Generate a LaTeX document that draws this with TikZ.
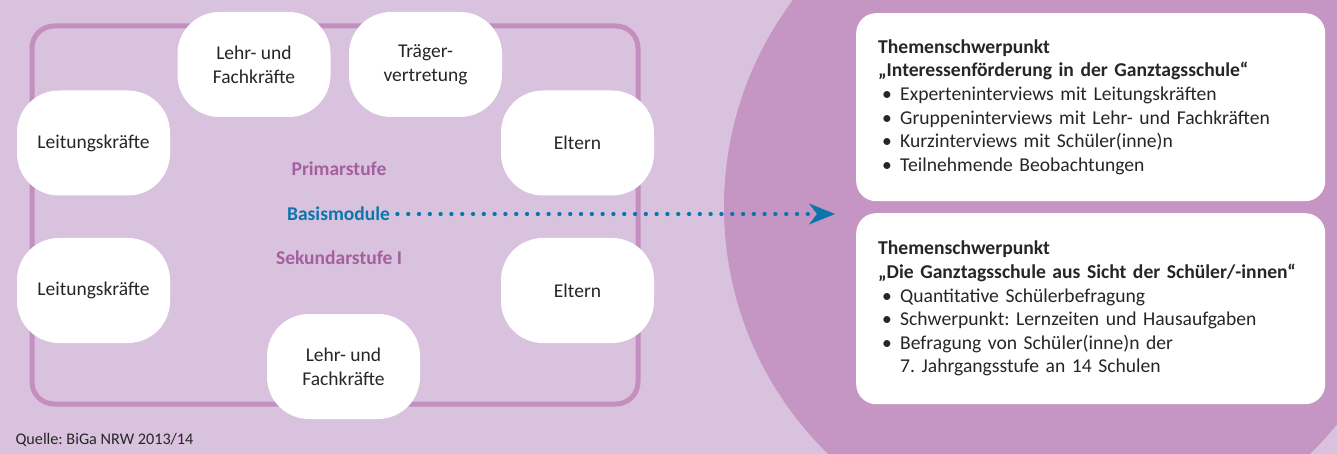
\documentclass[tikz,border=0pt]{standalone}
\usepackage{fontspec}
\setmainfont{Carlito}
\usetikzlibrary{arrows.meta}
\definecolor{bglight}{HTML}{D9C2DE}
\definecolor{bgdark}{HTML}{C595C3}
\definecolor{framecol}{HTML}{C48FBF}
\definecolor{stufecol}{HTML}{A4609E}
\definecolor{basiscol}{HTML}{0B76AC}
\definecolor{textcol}{HTML}{262626}
\frenchspacing

\begin{document}
\begin{tikzpicture}[x=1pt,y=-1pt,
    group/.style={fill=white,rounded corners=42pt,minimum width=153pt,minimum height=105pt,
        align=center,text=textcol,font=\fontsize{19.5}{24}\selectfont,inner sep=0pt},
    stufe/.style={text=stufecol,font=\fontsize{19.5}{24}\selectfont\bfseries},
    themebox/.style={fill=white,rounded corners=20pt,anchor=north west,text width=425pt,
        inner xsep=22pt,inner ysep=0pt,align=left,text=textcol,
        font=\fontsize{19.6}{23.6}\selectfont},
    dotline/.style={basiscol,line width=4.3pt,line cap=round,dash pattern=on 0pt off 10.8pt}]
    \useasboundingbox (0,0) rectangle (1337,454);
    \fill[bglight] (0,0) rectangle (1337,454);
    \begin{scope}
        \clip (0,0) rectangle (1337,454);
        \fill[bgdark] (1069,207) circle (345);
    \end{scope}
    \draw[framecol,line width=5pt,rounded corners=22pt] (32,26) rectangle (638,404);

    \node[group] (lf1) at (254,64.5) {Lehr- und\\Fachkräfte};
    \node[group] (tv) at (425.5,64.5) {Träger-\\vertretung};
    \node[group] (lk1) at (93.5,143) {Leitungskräfte};
    \node[group] (el1) at (577.5,143) {Eltern};
    \node[group] (lk2) at (93.5,290.5) {Leitungskräfte};
    \node[group] (el2) at (577.5,290.5) {Eltern};
    \node[group] (lf2) at (343.5,366.5) {Lehr- und\\Fachkräfte};

    \node[stufe] (prim) at (339,169) {Primarstufe};
    \node[stufe,text=basiscol] (basis) at (338.5,214) {Basismodule};
    \node[stufe] (sek) at (339,258) {Sekundarstufe I};

    \node[themebox,minimum height=188pt] (t1) at (856,13) {%
        \textbf{Themenschwerpunkt}\\
        \textbf{„Interessenförderung in der Ganztagsschule“}\\
        \hspace*{4pt}\makebox[18pt][l]{\textbullet}Experteninterviews mit Leitungskräften\\
        \hspace*{4pt}\makebox[18pt][l]{\textbullet}Gruppeninterviews mit Lehr- und Fachkräften\\
        \hspace*{4pt}\makebox[18pt][l]{\textbullet}Kurzinterviews mit Schüler(inne)n\\
        \hspace*{4pt}\makebox[18pt][l]{\textbullet}Teilnehmende Beobachtungen};
    \node[themebox,minimum height=191pt] (t2) at (856,213) {%
        \textbf{Themenschwerpunkt}\\
        \textbf{„Die Ganztagsschule aus Sicht der Schüler/-innen“}\\
        \hspace*{4pt}\makebox[18pt][l]{\textbullet}Quantitative Schülerbefragung\\
        \hspace*{4pt}\makebox[18pt][l]{\textbullet}Schwerpunkt: Lernzeiten und Hausaufgaben\\
        \hspace*{4pt}\makebox[18pt][l]{\textbullet}Befragung von Schüler(inne)n der\\
        \hspace*{22pt}7. Jahrgangsstufe an 14 Schulen};

    \coordinate (tip) at (835,214);
    \draw[dotline,-{Stealth[length=26pt,width=21pt,inset=8pt,line width=0.5pt]}]
        ([xshift=4pt]basis.east) -- (tip);

    \node[anchor=west,text=textcol,font=\fontsize{16.2}{19}\selectfont] (quelle) at (12,440)
        {Quelle: BiGa NRW 2013/14};
\end{tikzpicture}
\end{document}
